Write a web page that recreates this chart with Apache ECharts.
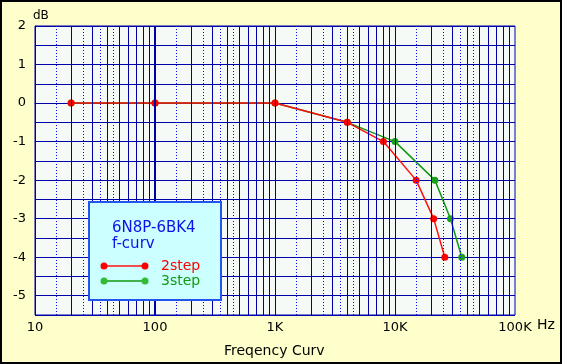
<!DOCTYPE html>
<html>
<head>
<meta charset="utf-8">
<script src="https://cdn.jsdelivr.net/npm/echarts@6/dist/echarts.min.js"></script>
<style>html,body{margin:0;padding:0;background:#FFFFCC;}#c{width:562px;height:364px;}</style>
</head>
<body>
<div id="c"></div>
<script>
// ---- data ----
const seriesNames = ['2step', '3step'];
const freq2 = [20, 100, 1000, 4000, 8000, 15000, 21000, 26000];
const db2   = [0, 0, 0, -0.5, -1, -2, -3, -4];
const freq3 = [20, 100, 1000, 4000, 10000, 21500, 29000, 36000];
const db3   = [0, 0, 0, -0.5, -1, -2, -3, -4];
const xTickLabels = {10: '10', 100: '100', 1000: '1K', 10000: '10K', 100000: '100K'};
const yTickValues = [2, 1, 0, -1, -2, -3, -4, -5];
const decades = [10, 100, 1000, 10000];
const solidMult = [2, 3, 4, 5, 6, 7, 8, 9];
const dottedMult = [1.5, 2.5, 3.5, 4.5];
const chartTitle = ['6N8P-6BK4', 'f-curv'];
const xTitle = 'Freqency Curv';
const xUnit = 'Hz';
const yUnit = 'dB';

// ---- styles ----
const gridBlue = '#0000A8';
const red = '#FF1010';
const green = '#119911';
const font = 'DejaVu Sans, sans-serif';

const gridLines = [];
decades.forEach(function (d) {
  if (d !== 10) gridLines.push({xAxis: d, lineStyle: {color: gridBlue, width: d === 100 ? 2 : 1, type: 'solid'}});
  solidMult.forEach(function (m) { gridLines.push({xAxis: d * m, lineStyle: {color: gridBlue, width: 1, type: 'solid'}}); });
  dottedMult.forEach(function (m) { gridLines.push({xAxis: d * m, lineStyle: {color: '#0000FF', width: 1, type: [1, 2]}}); });
});

const Z = 100;
const chart = echarts.init(document.getElementById('c'), null, {renderer: 'canvas'});
chart.setOption({
  animation: false,
  backgroundColor: '#FFFFCC',
  title: {
    text: xTitle, left: 219, top: 339,
    textStyle: {fontFamily: font, fontSize: 14, fontWeight: 'normal', color: '#000'}
  },
  grid: {left: 35, top: 26, width: 480, height: 289, show: true,
         backgroundColor: '#F5FAF7', borderColor: gridBlue, borderWidth: 1, containLabel: false},
  xAxis: {
    type: 'log', logBase: 10, min: 10, max: 100000,
    axisLine: {show: true, lineStyle: {color: gridBlue}},
    axisTick: {show: false},
    splitLine: {show: false},
    axisLabel: {
      show: true, margin: 6, color: '#000', fontFamily: font, fontSize: 13,
      showMinLabel: true, showMaxLabel: true,
      formatter: function (v) { return xTickLabels[Math.round(v)] || ''; }
    }
  },
  yAxis: {
    type: 'value', min: -5.5, max: 2, interval: 0.5,
    axisLine: {show: true, lineStyle: {color: gridBlue}},
    axisTick: {show: false},
    splitLine: {show: true, lineStyle: {color: gridBlue, width: 1}},
    axisLabel: {
      margin: 9, color: '#000', fontFamily: font, fontSize: 13,
      formatter: function (v) { return yTickValues.indexOf(v) >= 0 ? String(v) : ''; }
    }
  },
  series: [
    {
      type: 'line', data: [], z: 1, silent: true,
      markLine: {silent: true, symbol: ['none', 'none'], label: {show: false}, animation: false, data: gridLines}
    },
    {
      name: seriesNames[1], type: 'line', z: 2,
      data: freq3.map(function (f, i) { return [f, db3[i]]; }),
      symbol: 'circle', symbolSize: 7, showAllSymbol: true,
      lineStyle: {color: green, width: 1.5}, itemStyle: {color: '#1AA01A'}
    },
    {
      name: seriesNames[0], type: 'line', z: 3,
      data: freq2.map(function (f, i) { return [f, db2[i]]; }),
      symbol: 'circle', symbolSize: 7, showAllSymbol: true,
      lineStyle: {color: red, width: 1.5}, itemStyle: {color: '#FF0000'}
    }
  ],
  graphic: [
    {type: 'rect', z: -10, silent: true, shape: {x: 1, y: 1, width: 560, height: 362},
     style: {fill: 'none', stroke: '#000', lineWidth: 2}},
    {type: 'text', z: Z, style: {text: yUnit, x: 33, y: 16, fill: '#000', font: '12px ' + font, verticalAlign: 'middle'}},
    {type: 'text', z: Z, style: {text: xUnit, x: 537, y: 325, fill: '#000', font: '14px ' + font, verticalAlign: 'middle'}},
    {type: 'rect', z: Z, shape: {x: 89, y: 202, width: 132, height: 98},
     style: {fill: '#CCFFFF', stroke: '#2255EE', lineWidth: 2}},
    {type: 'text', z: Z + 1, style: {text: chartTitle[0], x: 112, y: 228, fill: '#1010E8', font: '15px ' + font, verticalAlign: 'middle'}},
    {type: 'text', z: Z + 1, style: {text: chartTitle[1], x: 112, y: 244, fill: '#1010E8', font: '15px ' + font, verticalAlign: 'middle'}},
    {type: 'line', z: Z + 1, shape: {x1: 104, y1: 266, x2: 145, y2: 266}, style: {stroke: red, lineWidth: 1.5}},
    {type: 'circle', z: Z + 2, shape: {cx: 104, cy: 266, r: 3.5}, style: {fill: '#FF0000'}},
    {type: 'circle', z: Z + 2, shape: {cx: 145, cy: 266, r: 3.5}, style: {fill: '#FF0000'}},
    {type: 'text', z: Z + 1, style: {text: seriesNames[0], x: 161, y: 266, fill: '#FF0000', font: '14px ' + font, verticalAlign: 'middle'}},
    {type: 'line', z: Z + 1, shape: {x1: 104, y1: 281, x2: 145, y2: 281}, style: {stroke: green, lineWidth: 1.5}},
    {type: 'circle', z: Z + 2, shape: {cx: 104, cy: 281, r: 3.5}, style: {fill: '#33BB33'}},
    {type: 'circle', z: Z + 2, shape: {cx: 145, cy: 281, r: 3.5}, style: {fill: '#33BB33'}},
    {type: 'text', z: Z + 1, style: {text: seriesNames[1], x: 161, y: 281, fill: green, font: '14px ' + font, verticalAlign: 'middle'}}
  ]
});
</script>
</body>
</html>
